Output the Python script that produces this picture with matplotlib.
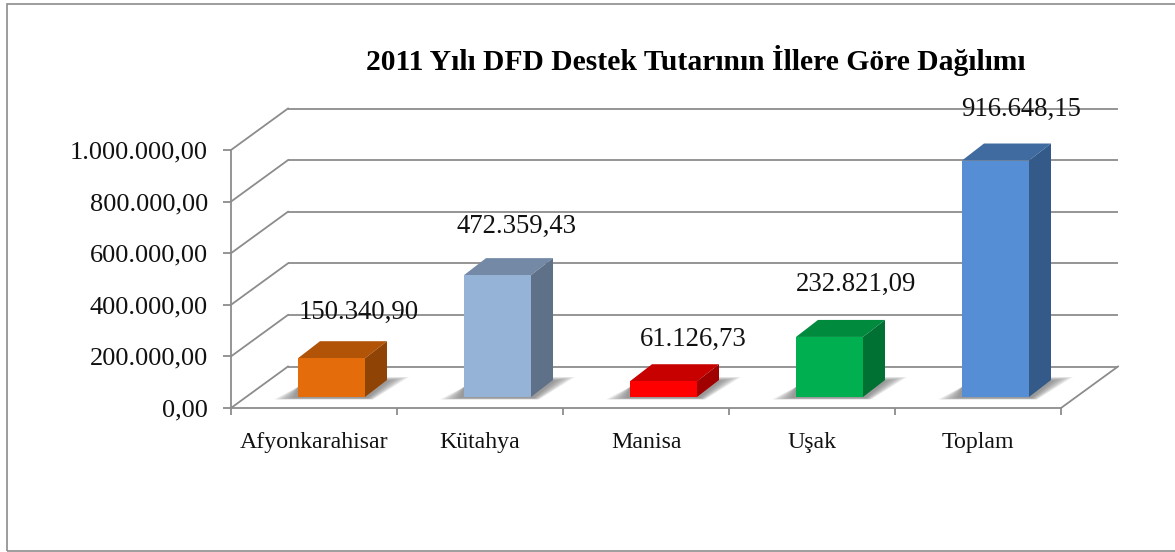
import matplotlib
matplotlib.use('Agg')
import matplotlib.pyplot as plt
from matplotlib.patches import Polygon, Rectangle

iller = ['Afyonkarahisar', 'Kütahya', 'Manisa', 'Uşak', 'Toplam']
tutar = [150340.90, 472359.43, 61126.73, 232821.09, 916648.15]
tutar_etiket = ['150.340,90', '472.359,43', '61.126,73', '232.821,09', '916.648,15']
y_ticks = [0, 200000, 400000, 600000, 800000, 1000000]
y_etiket = ['0,00', '200.000,00', '400.000,00', '600.000,00', '800.000,00', '1.000.000,00']
baslik = '2011 Yılı DFD Destek Tutarının İllere Göre Dağılımı'

# front, top, side
renkler = [('#E46C0A', '#B15407', '#8F4406'),
           ('#95B3D7', '#7389A6', '#5F7089'),
           ('#FF0000', '#C70000', '#A10000'),
           ('#00B050', '#008A3E', '#007033'),
           ('#558ED5', '#3F6BA1', '#335A88')]
# label offset from top of the bar, pixels
etiket_dx = [27, 19, 30, 27, 26]
etiket_dy = [46, 49, 42, 53, 51]

W, H = 1175, 552
GRI = '#8C8C8C'
plt.rcParams['font.family'] = ['Liberation Serif', 'DejaVu Serif']

fig = plt.figure(figsize=(W / 100, H / 100), dpi=100)
fig.add_artist(Rectangle((6.5 / W, 1 - 551 / H), 1175 / W, 547 / H, fill=False,
                         edgecolor=GRI, lw=1.2, transform=fig.transFigure))

ax = fig.add_axes([231 / W, 1 - 408 / H, 830 / W, 258 / H])
ax.set_xlim(-0.5, 4.5)
ax.set_ylim(0, 1000000)
ax.patch.set_alpha(0)

# pixel sizes in data units
px = 1 / 166
py = 1000000 / 258
dx_duvar, dy_duvar = 57 * px, 41.5 * py
dx_bar, dy_bar = 22 * px, 17 * py
taban = 11 * py
yarim = 33.5 * px
kayma = 17.5 * px


def poly(pts, **kw):
    p = Polygon(pts, closed=True, clip_on=False, **kw)
    ax.add_patch(p)


# gridlines + floor
for t in y_ticks:
    ax.plot([-0.5 + dx_duvar, 4.5 + dx_duvar], [t + dy_duvar, t + dy_duvar], color=GRI,
            lw=1.3, clip_on=False, zorder=1, solid_capstyle='butt')
    ax.plot([-0.5, -0.5 + dx_duvar], [t, t + dy_duvar], color=GRI, lw=1.3,
            clip_on=False, zorder=1)
ax.plot([4.5, 4.5 + dx_duvar], [0, dy_duvar], color=GRI, lw=1.3, clip_on=False, zorder=1)

# bars
for i in range(len(tutar)):
    x0 = i + kayma - yarim
    x1 = i + kayma + yarim
    y1 = taban + tutar[i]
    on, ust, yan = renkler[i]

    # soft shadow on the floor, outer layers first
    katman = 10
    for k in range(katman):
        g = k / katman
        sol = x0 - (24 - 22 * g) * px
        sag = x1 + (44 - 22 * g) * px
        alt = taban - (2.5 - 1.5 * g) * py
        ust_kenar = taban + (20 - 4 * g) * py
        poly([(sol, alt), (x1 + (8 - 6 * g) * px, alt), (sag, ust_kenar), (x1, ust_kenar),
              (x0, taban + 10 * py)],
             facecolor='#707070', edgecolor='none', alpha=0.11, zorder=2)

    poly([(x0, y1), (x1, y1), (x1 + dx_bar, y1 + dy_bar), (x0 + dx_bar, y1 + dy_bar)],
         facecolor=ust, edgecolor='none', zorder=3)
    poly([(x1, taban), (x1 + dx_bar, taban + dy_bar), (x1 + dx_bar, y1 + dy_bar), (x1, y1)],
         facecolor=yan, edgecolor='none', zorder=3)
    ax.bar(i + kayma, tutar[i], width=2 * yarim, bottom=taban, color=on, zorder=4, clip_on=False)

    ax.annotate(tutar_etiket[i], (i + kayma, y1), xytext=(etiket_dx[i] * 0.72, etiket_dy[i] * 0.72),
                textcoords='offset points', ha='center', va='center', fontsize=19.3,
                color='#111111', zorder=6, annotation_clip=False)

# axes
for s in ['top', 'right']:
    ax.spines[s].set_visible(False)
for s in ['left', 'bottom']:
    ax.spines[s].set_color(GRI)
    ax.spines[s].set_linewidth(1.3)
ax.set_yticks(y_ticks)
ax.set_yticklabels(y_etiket, fontsize=19, color='#111111')
ax.tick_params(axis='y', length=5.5, width=1.3, color=GRI, pad=11)
ax.set_xticks(range(len(iller)))
ax.set_xticklabels(iller, fontsize=17.2, color='#111111')
ax.set_xticks([-0.5, 0.5, 1.5, 2.5, 3.5, 4.5], minor=True)
ax.tick_params(axis='x', which='major', length=0, pad=17)
ax.tick_params(axis='x', which='minor', length=5, width=1.3, color=GRI)

fig.text(696 / W, 1 - 60 / H, baslik, fontsize=21.3, fontweight='bold', ha='center',
         va='center', color='black')

fig.savefig('out.png', dpi=100)
